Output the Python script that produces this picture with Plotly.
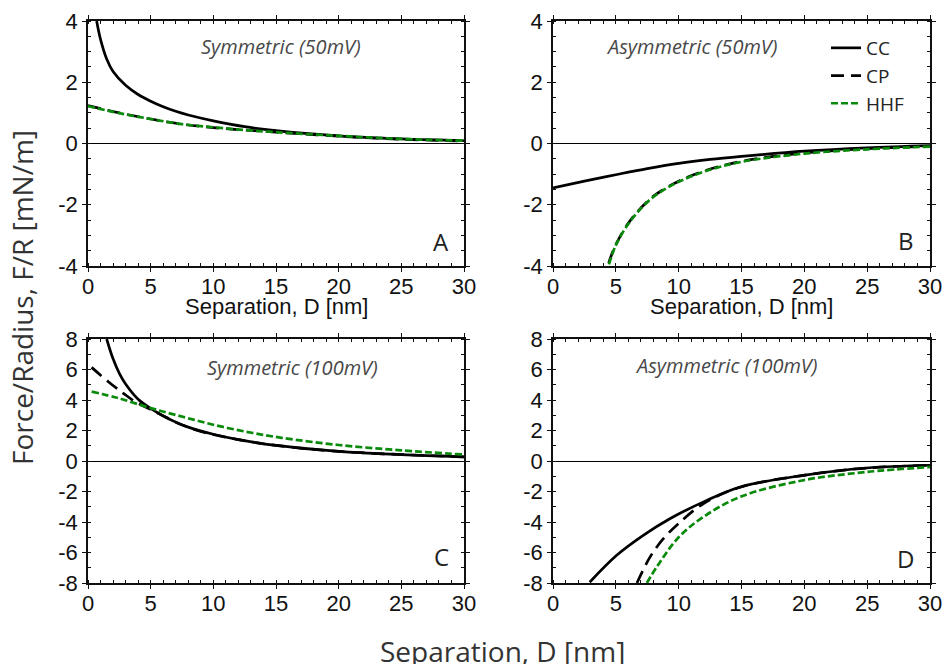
import plotly.graph_objects as go

# ---------------- data ----------------
# Panel A: Symmetric (50mV)
a_cc_x = [0.69, 1.0, 1.5, 2.0, 3.0, 4.0, 5.0, 6.0, 7.0, 8.0, 10.0, 12.5, 15.0, 20.0, 25.0, 30.0]
a_cc_y = [4.0, 3.4, 2.75, 2.35, 1.9, 1.6, 1.38, 1.2, 1.05, 0.93, 0.74, 0.55, 0.42, 0.25, 0.15, 0.09]
a_cp_x = [0, 2.5, 5, 7.5, 10, 12.5, 15, 20, 25, 30]
a_cp_y = [1.24, 1.0, 0.8, 0.63, 0.52, 0.44, 0.37, 0.24, 0.14, 0.08]
a_hhf_x = [0, 2.5, 5, 7.5, 10, 12.5, 15, 20, 25, 30]
a_hhf_y = [1.22, 0.99, 0.8, 0.63, 0.53, 0.44, 0.37, 0.25, 0.15, 0.09]

# Panel B: Asymmetric (50mV)
b_cc_x = [0, 2.5, 5, 7.5, 10, 12.5, 15, 20, 25, 30]
b_cc_y = [-1.45, -1.23, -1.02, -0.82, -0.65, -0.52, -0.42, -0.25, -0.14, -0.07]
b_cp_x = [4.43, 5, 6, 7, 8, 9, 10, 12, 15, 20, 25, 30]
b_cp_y = [-3.9, -3.3, -2.6, -2.1, -1.72, -1.45, -1.23, -0.9, -0.58, -0.31, -0.17, -0.09]
b_hhf_x = [4.45, 5, 6, 7, 8, 9, 10, 12, 15, 20, 25, 30]
b_hhf_y = [-3.95, -3.32, -2.62, -2.12, -1.74, -1.47, -1.25, -0.92, -0.6, -0.33, -0.19, -0.1]

# Panel C: Symmetric (100mV)
c_cc_x = [1.49, 2.0, 2.5, 3.0, 4.0, 5.0, 6.0, 7.0, 8.0, 10.0, 12.0, 15.0, 20.0, 25.0, 30.0]
c_cc_y = [8.0, 6.7, 5.75, 5.05, 4.05, 3.45, 2.95, 2.55, 2.22, 1.75, 1.4, 1.02, 0.63, 0.42, 0.27]
c_cp_x = [0.29, 1.62, 2.82, 3.75, 5.2, 6.4, 7.47, 9.07, 12.0, 15, 20, 25, 30]
c_cp_y = [6.14, 5.2, 4.44, 3.9, 3.3, 2.8, 2.38, 1.92, 1.4, 1.02, 0.63, 0.42, 0.27]
c_hhf_x = [0.29, 2.42, 5.08, 7.74, 10.4, 13.06, 15.45, 20, 25, 30]
c_hhf_y = [4.55, 4.12, 3.45, 2.86, 2.3, 1.85, 1.52, 1.05, 0.7, 0.42]

# Panel D: Asymmetric (100mV)
d_cc_x = [2.92, 5.09, 7.21, 9.33, 11.98, 14.9, 19.93, 24.97, 30]
d_cc_y = [-7.95, -6.17, -4.86, -3.77, -2.68, -1.70, -0.94, -0.46, -0.28]
d_cp_x = [6.68, 7.74, 8.8, 9.99, 11.98, 14.9, 19.93, 24.97, 30]
d_cp_y = [-8.0, -6.27, -5.08, -4.1, -2.79, -1.72, -0.94, -0.46, -0.28]
d_hhf_x = [7.47, 8.27, 10.0, 11.98, 14.9, 19.93, 24.97, 30]
d_hhf_y = [-8.0, -6.93, -5.0, -3.66, -2.35, -1.26, -0.72, -0.39]

series_names = ["CC", "CP", "HHF"]
panel_labels = ["A", "B", "C", "D"]
panel_titles = ["Symmetric (50mV)", "Asymmetric (50mV)", "Symmetric (100mV)", "Asymmetric (100mV)"]
x_ticks = [0, 5, 10, 15, 20, 25, 30]
y_ticks_top = [-4, -2, 0, 2, 4]
y_ticks_bot = [-8, -6, -4, -2, 0, 2, 4, 6, 8]
x_title = "Separation, D [nm]"
y_title = "Force/Radius, F/R [mN/m]"

panels = [
    [(a_cc_x, a_cc_y), (a_cp_x, a_cp_y), (a_hhf_x, a_hhf_y)],
    [(b_cc_x, b_cc_y), (b_cp_x, b_cp_y), (b_hhf_x, b_hhf_y)],
    [(c_cc_x, c_cc_y), (c_cp_x, c_cp_y), (c_hhf_x, c_hhf_y)],
    [(d_cc_x, d_cc_y), (d_cp_x, d_cp_y), (d_hhf_x, d_hhf_y)],
]

# ---------------- styles ----------------
W, H = 944, 664
styles = [
    dict(color="black", width=2.7, dash="solid"),
    dict(color="black", width=2.7, dash="13px,7px"),
    dict(color="#0a8a0a", width=2.7, dash="7px,3px"),
]
# pixel boxes of the four plot areas (left, right, top, bottom)
boxes = [(88, 464, 21, 266), (553, 930, 21, 266), (88, 464, 339, 583), (553, 930, 339, 583)]

fig = go.Figure()
for p, series in enumerate(panels):
    sfx = "" if p == 0 else str(p + 1)
    for s, (xs, ys) in enumerate(series):
        fig.add_trace(go.Scatter(
            x=xs, y=ys, mode="lines", name=series_names[s],
            line=dict(shape="spline", smoothing=1.0, **styles[s]),
            xaxis="x" + sfx, yaxis="y" + sfx,
            showlegend=(p == 1),
        ))

tickfont = dict(family="Liberation Sans, Arial, sans-serif", size=22, color="#111")
layout = dict(
    width=W, height=H, margin=dict(l=0, r=0, t=0, b=0, autoexpand=False),
    paper_bgcolor="white", plot_bgcolor="white",
    showlegend=True,
    legend=dict(x=826 / W, y=1 - 29 / H, xanchor="left", yanchor="top",
                bgcolor="rgba(0,0,0,0)", tracegroupgap=0,
                font=dict(family="Open Sans", size=19, color="#222")),
)
for p, (l, r, t, b) in enumerate(boxes):
    sfx = "" if p == 0 else str(p + 1)
    yt = y_ticks_top if p < 2 else y_ticks_bot
    yr = [-4, 4] if p < 2 else [-8, 8]
    common = dict(showline=True, linecolor="#111", linewidth=1.5, mirror="allticks",
                  ticks="outside", ticklen=4, tickwidth=1.3, tickcolor="#111",
                  showgrid=False, tickfont=tickfont, automargin=False)
    layout["xaxis" + sfx] = dict(
        domain=[l / W, r / W], anchor="y" + sfx, range=[0, 30],
        tickvals=x_ticks, ticktext=[str(v) for v in x_ticks], zeroline=False,
        ticklabelstandoff=-4,
        minor=dict(dtick=1, tick0=0, ticks="inside", ticklen=3, tickcolor="#111", tickwidth=1, showgrid=False),
        **common)
    layout["yaxis" + sfx] = dict(
        domain=[1 - b / H, 1 - t / H], anchor="x" + sfx, range=yr,
        tickvals=yt, ticktext=[str(v) for v in yt],
        zeroline=True, zerolinecolor="black", zerolinewidth=1.2,
        minor=dict(dtick=0.5 if p < 2 else 1, tick0=0, ticks="inside", ticklen=3, tickcolor="#111", tickwidth=1, showgrid=False),
        **common)
fig.update_layout(**layout)

ann = []
letter_pos = [(0.939, 0.098), (0.936, 0.106), (0.941, 0.107), (0.934, 0.102)]
title_pos = [(0.513, 0.894), (0.369, 0.894), (0.545, 0.885), (0.459, 0.893)]
for p in range(4):
    sfx = "" if p == 0 else str(p + 1)
    ann.append(dict(text=panel_labels[p], x=letter_pos[p][0], y=letter_pos[p][1],
                    xref="x" + sfx + " domain", yref="y" + sfx + " domain",
                    showarrow=False, xanchor="center", yanchor="middle",
                    font=dict(family="Open Sans", size=24, color="#222")))
    ann.append(dict(text="<i>" + panel_titles[p] + "</i>", x=title_pos[p][0], y=title_pos[p][1],
                    xref="x" + sfx + " domain", yref="y" + sfx + " domain",
                    showarrow=False, xanchor="center", yanchor="middle",
                    font=dict(family="Open Sans", size=20, color="#484848")))
# small x titles under the top panels
for p in range(2):
    l, r, t, b = boxes[p]
    ann.append(dict(text=x_title, x=(l + r) / 2 / W, y=1 - 306 / H, xref="paper", yref="paper",
                    showarrow=False, xanchor="center", yanchor="middle",
                    font=dict(family="Liberation Sans, Arial, sans-serif", size=22, color="#111")))
# big shared titles
ann.append(dict(text=x_title, x=503 / W, y=1 - 651 / H, xref="paper", yref="paper",
                showarrow=False, xanchor="center", yanchor="middle",
                font=dict(family="Open Sans", size=28, color="#333")))
ann.append(dict(text=y_title, x=22 / W, y=1 - 298 / H, xref="paper", yref="paper",
                showarrow=False, xanchor="center", yanchor="middle", textangle=-90,
                font=dict(family="Open Sans", size=28, color="#333")))
fig.update_layout(annotations=ann)

fig.write_html("out.html")
